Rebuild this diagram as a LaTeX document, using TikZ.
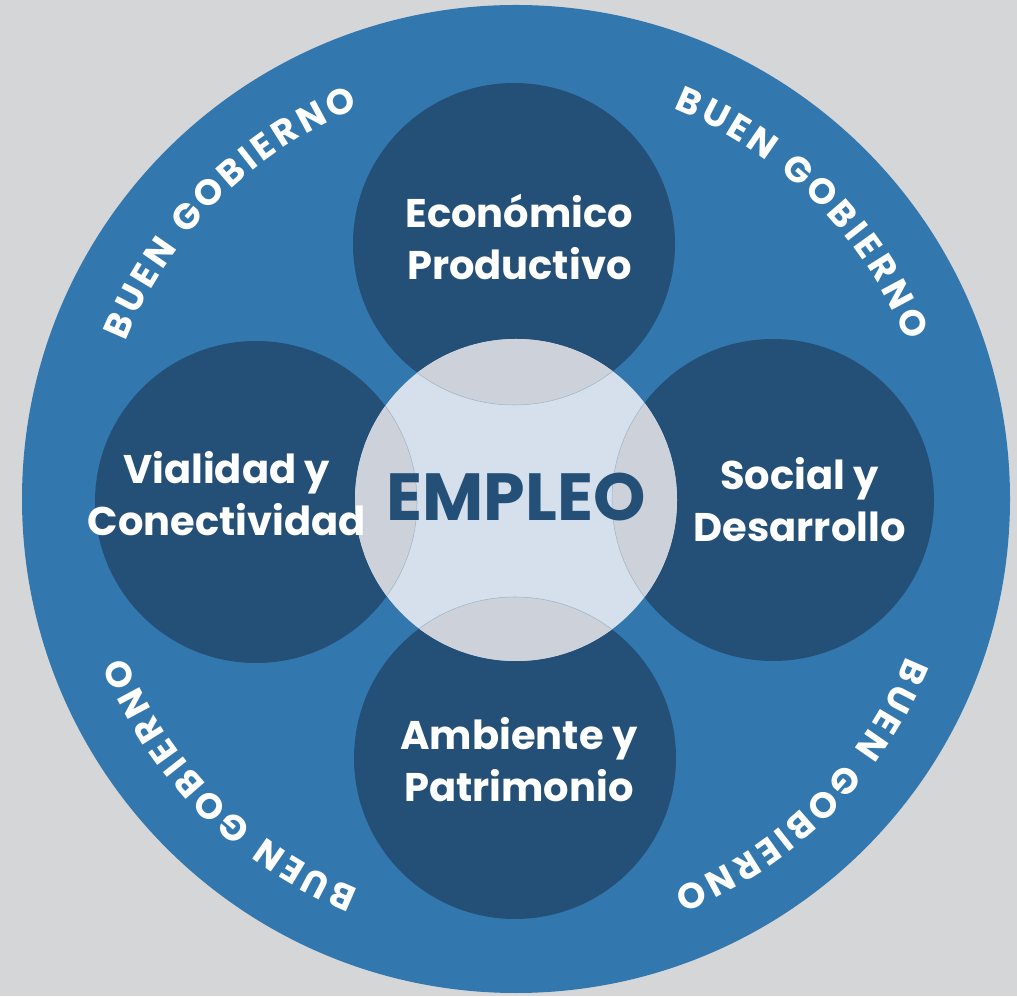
\documentclass[tikz,border=0pt]{standalone}
\usepackage{fontspec}
\setmainfont{Poppins}
\usepackage{tikz}
\usetikzlibrary{decorations.text}
\definecolor{bggray}{RGB}{213,214,216}
\definecolor{ringblue}{RGB}{50,119,174}
\definecolor{darkblue}{RGB}{36,80,120}
\definecolor{paleblue}{RGB}{213,224,236}
\definecolor{lensgray}{RGB}{205,210,218}
\definecolor{seamblue}{RGB}{160,180,200}
\newcommand{\gobfont}{\fontsize{27}{27}\selectfont\bfseries}

\begin{document}
\begin{tikzpicture}[x=0.75pt,y=0.75pt,
    areatext/.style={text=white,font=\fontsize{30}{39}\selectfont\bfseries,align=center},
    gobpath/.style={decorate,decoration={text along path,text align=fit to path,
        text color=white,text={|\gobfont|BUEN GOBIERNO}}}]
    \useasboundingbox (0,0) rectangle (1017,996);
    % background and ring
    \fill[bggray] (0,0) rectangle (1017,996);
    \coordinate (hub) at (516,497);
    \fill[ringblue] (hub) circle (494);
    % four areas
    \coordinate (eco) at (514,752);
    \coordinate (via) at (256,494);
    \coordinate (soc) at (773,496);
    \coordinate (amb) at (515,238);
    \coordinate (mid) at (516,496);
    \foreach \c in {eco,via,soc,amb}
      \fill[darkblue] (\c) circle (161);
    % centre and overlaps
    \fill[paleblue] (mid) circle (161);
    \begin{scope}
      \clip (mid) circle (161);
      \foreach \c in {eco,via,soc,amb}{
        \fill[lensgray] (\c) circle (161);
        \draw[seamblue,line width=0.4pt] (\c) circle (161);
      }
    \end{scope}
    % labels
    \node[areatext] (ecolbl) at (eco) [xshift=4pt,yshift=5pt] {Económico\\Productivo};
    \node[areatext] (vialbl) at (via) [xshift=-22pt,yshift=6pt] {Vialidad y\\Conectividad};
    \node[areatext] (soclbl) at (soc) [xshift=20pt,yshift=0pt] {Social y\\Desarrollo};
    \node[areatext] (amblbl) at (amb) [xshift=3pt,yshift=-1pt] {Ambiente y\\Patrimonio};
    \node[text=darkblue,font=\fontsize{50}{50}\selectfont\bfseries] (emp) at (mid) [yshift=2pt] {EMPLEO};
    % curved titles
    \path[gobpath] ([shift={(hub)}]158:421) arc[start angle=158,end angle=112,radius=421];
    \path[gobpath] ([shift={(hub)}]68:421) arc[start angle=68,end angle=22,radius=421];
    \path[gobpath] ([shift={(hub)}]-22:421) arc[start angle=-22,end angle=-68,radius=421];
    \path[gobpath] ([shift={(hub)}]-112:421) arc[start angle=-112,end angle=-158,radius=421];
\end{tikzpicture}
\end{document}
